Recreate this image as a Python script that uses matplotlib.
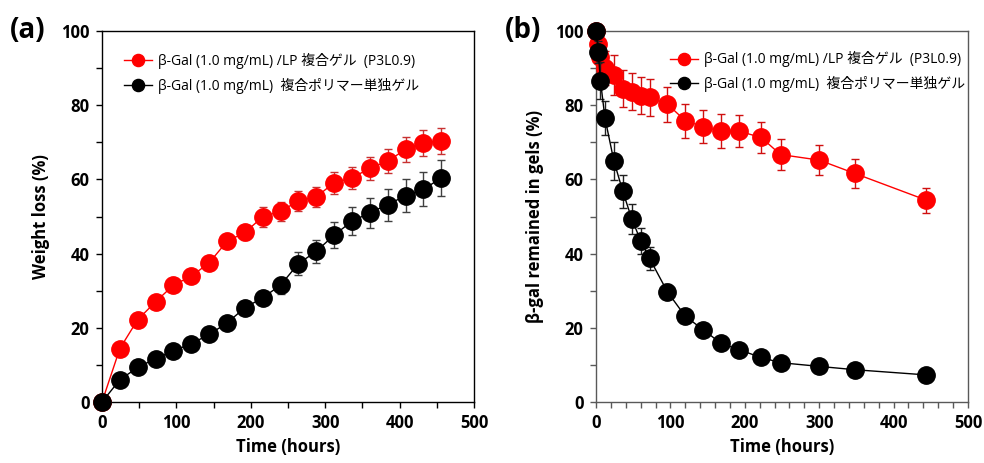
import numpy as np
import matplotlib
matplotlib.use("Agg")
import matplotlib.pyplot as plt
from matplotlib.ticker import MultipleLocator

plt.rcParams['font.family'] = ['Open Sans', 'Noto Sans CJK JP', 'DejaVu Sans']

# (a) weight loss
t_a = [0, 24, 48, 72, 96, 120, 144, 168, 192, 216, 240, 264, 288, 312, 336, 360, 384, 408, 432, 456]
loss_lp = [0, 14.4, 22.2, 27.0, 31.5, 33.9, 37.5, 43.3, 45.7, 49.9, 51.4, 54.2, 55.3, 59.1, 60.4, 63.0, 64.9, 68.1, 69.9, 70.4]
loss_lp_err = [0, 1.0, 1.2, 1.3, 1.5, 1.6, 1.7, 1.8, 2.0, 2.7, 2.6, 2.7, 2.7, 3.0, 2.9, 3.1, 3.3, 3.3, 3.5, 3.5]
loss_poly = [0, 6.0, 9.3, 11.7, 13.8, 15.7, 18.2, 21.3, 25.4, 28.1, 31.5, 37.3, 40.6, 45.0, 48.7, 51.0, 53.2, 55.6, 57.3, 60.4]
loss_poly_err = [0, 0.8, 1.0, 1.1, 1.2, 1.3, 1.4, 1.5, 1.7, 1.9, 2.3, 3.0, 3.2, 3.6, 3.8, 4.0, 4.3, 4.5, 4.6, 4.9]

# (b) enzyme remaining
t_b = [0, 3, 6, 12, 24, 36, 48, 60, 72, 96, 120, 144, 168, 192, 222, 248, 300, 348, 444]
rem_lp = [100, 96.5, 93.0, 90.0, 88.1, 84.4, 83.6, 82.5, 82.1, 80.3, 75.8, 74.2, 73.0, 73.0, 71.3, 66.7, 65.2, 61.6, 54.4]
rem_lp_err = [0, 3.0, 4.0, 4.5, 5.3, 5.0, 5.0, 5.0, 5.0, 4.7, 4.6, 4.5, 4.6, 4.4, 4.3, 4.2, 4.0, 3.8, 3.4]
rem_poly = [100, 94.4, 86.6, 76.6, 65.0, 56.8, 49.4, 43.5, 38.7, 29.7, 23.1, 19.5, 15.8, 14.1, 12.0, 10.6, 9.6, 8.7, 7.3]
rem_poly_err = [0, 3.0, 5.0, 4.5, 5.2, 4.5, 4.0, 3.5, 3.0, 2.0, 1.0, 1.0, 0.8, 0.8, 0.7, 0.6, 0.6, 0.5, 0.5]

lab_lp = 'β-Gal (1.0 mg/mL) /LP 複合ゲル  (P3L0.9)'
lab_poly = 'β-Gal (1.0 mg/mL)  複合ポリマー単独ゲル'

fig = plt.figure(figsize=(9.84, 4.63), dpi=100)
ax1 = fig.add_axes([102/984, 1-402/463, 372/984, 371/463])
ax2 = fig.add_axes([596/984, 1-402/463, 372/984, 371/463])


def series(ax, t, y, err, col, ecol, lab, z):
    eb = ax.errorbar(t, y, yerr=err, fmt='none', ecolor=ecol, elinewidth=1,
                     capsize=3, capthick=1, zorder=z)
    for art in eb.lines[1] + eb.lines[2]:
        art.set_clip_on(False)
    ax.plot(t, y, '-', color=col, lw=1, marker='o', ms=12.5, mec=col,
            mfc=col, label=lab, zorder=z + 0.5, clip_on=False)


series(ax1, t_a, loss_lp, loss_lp_err, '#ff0000', '#c83232', lab_lp, 3)
series(ax1, t_a, loss_poly, loss_poly_err, '#000000', '#404040', lab_poly, 4)
series(ax2, t_b, rem_lp, rem_lp_err, '#ff0000', '#d01010', lab_lp, 3)
series(ax2, t_b, rem_poly, rem_poly_err, '#000000', '#202020', lab_poly, 4)

for ax, xminor, sc in [(ax1, 50, '#000000'), (ax2, 20, '#595959')]:
    ax.set_xlim(0, 500)
    ax.set_ylim(0, 100)
    ax.xaxis.set_major_locator(MultipleLocator(100))
    ax.xaxis.set_minor_locator(MultipleLocator(xminor))
    ax.yaxis.set_major_locator(MultipleLocator(20))
    ax.yaxis.set_minor_locator(MultipleLocator(10))
    ax.tick_params(which='both', direction='out', length=4, width=1, color=sc)
    ax.tick_params(labelsize=12, pad=5)
    for lbl in ax.get_xticklabels() + ax.get_yticklabels():
        lbl.set_fontweight('bold')
    for s in ax.spines.values():
        s.set_color(sc)
        s.set_linewidth(1)
    ax.set_xlabel('Time (hours)', fontsize=12, fontweight='bold', labelpad=4)

ax1.set_ylabel('Weight loss (%)', fontsize=12, fontweight='bold', labelpad=8)
ax2.set_ylabel('β-gal remained in gels (%)', fontsize=12, fontweight='bold', labelpad=8)

ax1.legend(loc='upper left', bbox_to_anchor=(0.06, 0.94), frameon=False,
           fontsize=10, markerscale=0.7, handlelength=2.0, handletextpad=0.45,
           labelspacing=0.6, borderpad=0, borderaxespad=0)
ax2.legend(loc='upper left', bbox_to_anchor=(0.2, 0.945), frameon=False,
           fontsize=10, markerscale=0.7, handlelength=2.0, handletextpad=0.45,
           labelspacing=0.6, borderpad=0, borderaxespad=0)

fig.text(10/984, 1-30/463, '(a)', fontsize=20, fontweight='bold', va='center')
fig.text(505/984, 1-30/463, '(b)', fontsize=20, fontweight='bold', va='center')

fig.savefig('out.png', dpi=100)
